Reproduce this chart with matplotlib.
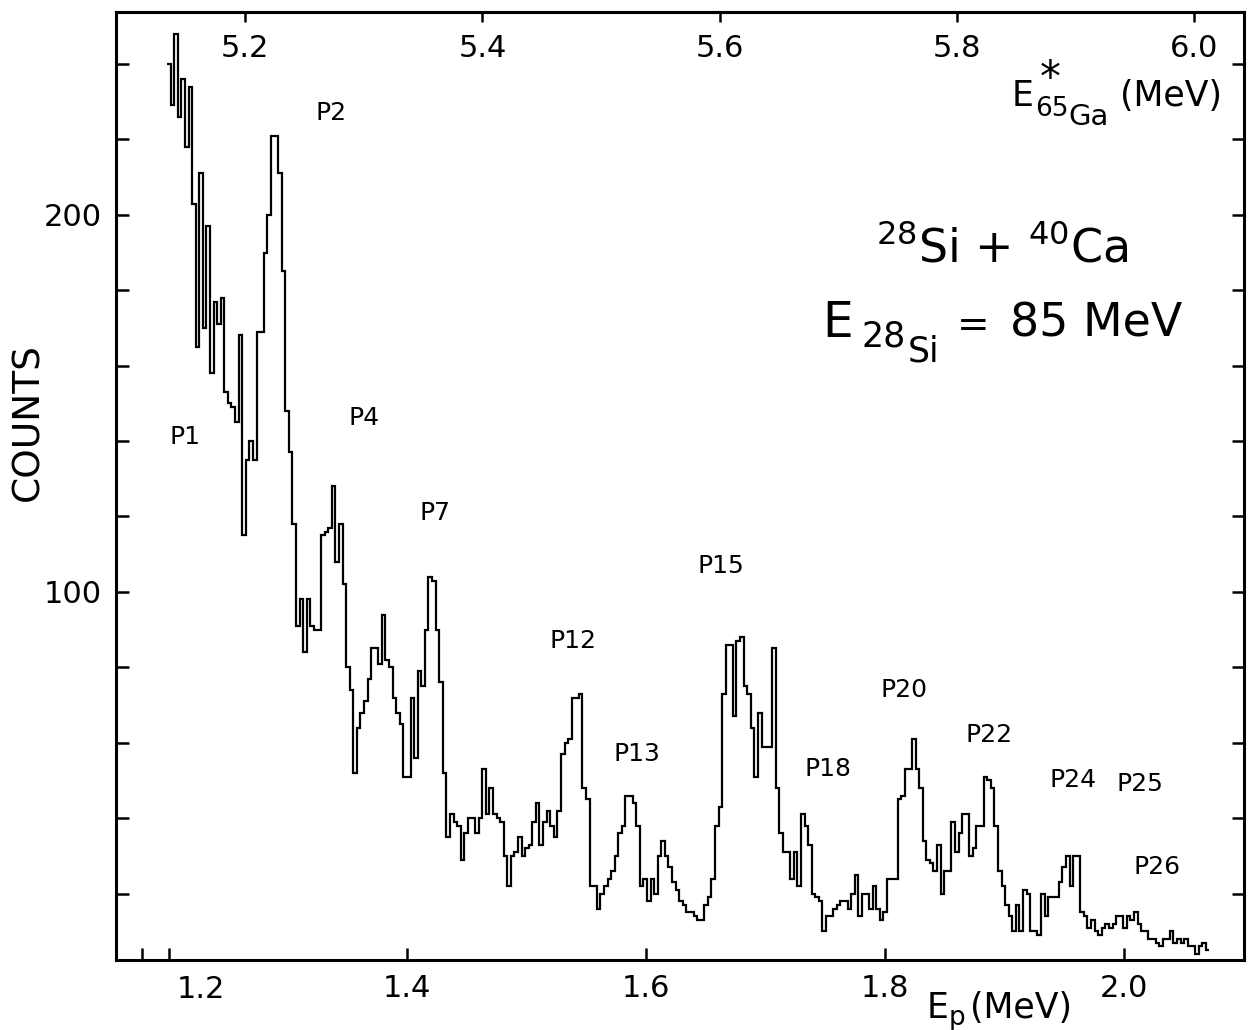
import numpy as np
import matplotlib
matplotlib.use("Agg")
import matplotlib.pyplot as plt

plt.rcParams['font.family'] = 'DejaVu Sans'
plt.rcParams['mathtext.fontset'] = 'dejavusans'
plt.rcParams['mathtext.default'] = 'regular'

# proton spectrum, 28Si + 40Ca at 85 MeV
# channel calibration: first channel edge and channel width (MeV)
ep_start = 1.1987
bin_width = 0.003
counts = [
    240, 229, 248, 226, 236, 218, 234, 203, 165, 211,
    170, 197, 158, 177, 171, 178, 153, 150, 149, 145,
    168, 115, 135, 140, 135, 169, 169, 190, 200, 221,
    221, 211, 185, 148, 137, 118, 91, 98, 84, 98,
    91, 90, 90, 115, 116, 117, 128, 108, 118, 102,
    80, 74, 52, 64, 68, 71, 77, 85, 85, 81,
    94, 82, 80, 72, 68, 65, 51, 51, 72, 56,
    79, 75, 90, 104, 103, 90, 76, 52, 35, 41,
    39, 38, 29, 36, 40, 40, 36, 40, 53, 41,
    48, 41, 40, 39, 30, 22, 30, 31, 35, 30,
    32, 33, 39, 44, 33, 39, 42, 38, 35, 42,
    57, 60, 61, 72, 72, 73, 48, 45, 22, 22,
    16, 20, 22, 24, 26, 30, 36, 38, 46, 46,
    44, 38, 22, 24, 18, 24, 20, 30, 34, 30,
    27, 23, 21, 18, 17, 15, 15, 14, 13, 13,
    17, 19, 24, 38, 43, 73, 86, 86, 67, 87,
    88, 75, 73, 64, 51, 68, 59, 59, 59, 85,
    48, 36, 31, 31, 24, 31, 22, 41, 38, 33,
    20, 19, 18, 10, 14, 14, 16, 17, 18, 18,
    16, 20, 25, 14, 20, 20, 16, 22, 16, 13,
    15, 24, 24, 24, 45, 46, 53, 53, 61, 53,
    48, 34, 29, 28, 26, 33, 20, 26, 26, 39,
    31, 36, 41, 41, 30, 32, 38, 38, 51, 50,
    48, 38, 26, 22, 17, 14, 10, 17, 10, 21,
    20, 10, 10, 9, 20, 14, 19, 19, 19, 23,
    27, 30, 22, 30, 30, 15, 14, 11, 13, 10,
    9, 11, 12, 11, 12, 14, 14, 11, 14, 13,
    15, 12, 10, 10, 8, 8, 7, 6, 8, 8,
    10, 7, 8, 7, 8, 6, 6, 4, 6, 7,
    5,
]

# peak labels (Ep, counts where the label sits)
peak_names = ["P1", "P2", "P4", "P7", "P12", "P13", "P15",
              "P18", "P20", "P22", "P24", "P25", "P26"]
peak_ep = [1.214, 1.336, 1.364, 1.423, 1.539, 1.592, 1.663,
           1.752, 1.816, 1.887, 1.958, 2.014, 2.028]
peak_cnt = [141, 227, 146, 121, 87, 57, 107,
            53, 74, 62, 50, 49, 27]

ep_ticks = [1.4, 1.6, 1.8, 2.0]
ep_minor = [1.178, 1.2]
ex_ticks = [5.2, 5.4, 5.6, 5.8, 6.0]
count_ticks = [100, 200]


# excitation energy of 65Ga vs proton energy
def ep_to_ex(ep):
    return 5.6387 + 1.00675 * (np.asarray(ep) - 1.7)


def ex_to_ep(ex):
    return 1.7 + (np.asarray(ex) - 5.6387) / 1.00675


edges = ep_start + bin_width * np.arange(len(counts) + 1)

W, H = 1249, 1030
fig = plt.figure(figsize=(W / 100, H / 100), dpi=100)
ax = fig.add_axes([0.0929, 0.068, 0.9031, 0.9204])


def ftext(x, y, s, size, **kw):
    # place text by pixel position on the page (y from top)
    kw.setdefault('ha', 'left')
    kw.setdefault('va', 'baseline')
    fig.text(x / W, 1 - y / H, s, fontsize=size, **kw)


ax.stairs(counts, edges, baseline=None, color='black', lw=1.6)

ax.set_xlim(1.156, 2.1008)
ax.set_ylim(2.4, 253.8)

for sp in ax.spines.values():
    sp.set_linewidth(2.2)

ax.set_xticks(ep_ticks)
ax.set_xticklabels(["%.1f" % v for v in ep_ticks])
ax.set_xticks(ep_minor, minor=True)
ax.tick_params(axis='x', which='both', direction='in', length=9, width=1.8,
               top=False, bottom=True, pad=10, labelsize=22)
# the 1.2 label sits off its tick in the original
ax.text(1.2272, -0.0158, "1.2", transform=ax.get_xaxis_transform(),
        ha='center', va='top', fontsize=22)

ax.set_yticks(count_ticks)
ax.set_yticklabels([str(v) for v in count_ticks])
ax.set_yticks(np.arange(20, 260, 20), minor=True)
ax.tick_params(axis='y', which='both', direction='in', length=9, width=1.8,
               left=True, right=True, labelright=False, pad=10, labelsize=22)

secax = ax.secondary_xaxis('top', functions=(ep_to_ex, ex_to_ep))
secax.set_xticks(ex_ticks)
secax.set_xticklabels(["%.1f" % v for v in ex_ticks])
secax.tick_params(direction='in', length=7, width=1.8, pad=-37, labelsize=22)
secax.spines['top'].set_linewidth(2.2)

for name, x, y in zip(peak_names, peak_ep, peak_cnt):
    ax.text(x, y, name, ha='center', va='center', fontsize=18)

ax.text(-0.078, 0.5675, "COUNTS", transform=ax.transAxes, rotation=90,
        ha='center', va='center', fontsize=27)

# E_p (MeV) under the bottom axis
ftext(927, 1018, "E", 25)
ftext(949, 1025, "p", 19)
ftext(970, 1018, "(MeV)", 25)

# E*_65Ga (MeV) at the top right
ftext(1012, 106, "E", 25)
ftext(1050, 58, "*", 30, ha='center', va='top')
ftext(1035, 116, "65", 19)
ftext(1068, 125, "Ga", 21)
ftext(1120, 106, "(MeV)", 25)

# reaction text
ax.text(0.7855, 0.7363, r"$^{28}$Si + $^{40}$Ca", transform=ax.transAxes,
        ha='center', va='baseline', fontsize=33)
ftext(822, 337, "E", 35)
ftext(862, 347, "28", 25)
ftext(908, 361, "Si", 25)
ftext(973, 337, "=", 28, ha='center')
ftext(1010, 337, "85 MeV", 33)

fig.savefig("out.png", dpi=100)
